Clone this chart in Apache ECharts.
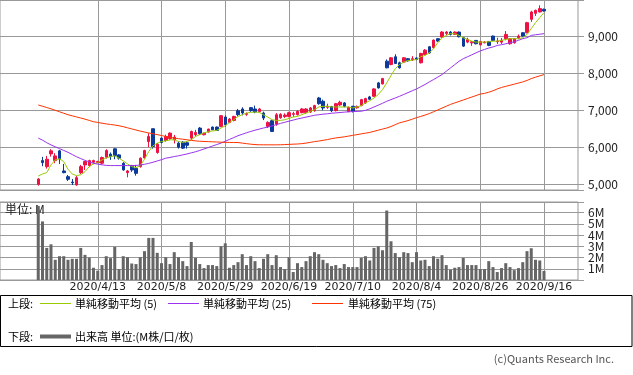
<!DOCTYPE html>
<html><head><meta charset="utf-8">
<script src="https://cdn.jsdelivr.net/npm/echarts@6/dist/echarts.min.js"></script>
<style>html,body{margin:0;padding:0;background:#fff}#c{width:633px;height:375px}</style>
</head><body><div id="c"></div>
<script>
const dates = [
'2020/3/24','2020/3/25','2020/3/26','2020/3/27','2020/3/30','2020/3/31',
'2020/4/1','2020/4/2','2020/4/3','2020/4/6','2020/4/7','2020/4/8','2020/4/9','2020/4/10','2020/4/13','2020/4/14','2020/4/15','2020/4/16','2020/4/17','2020/4/20','2020/4/21','2020/4/22','2020/4/23','2020/4/24','2020/4/27','2020/4/28','2020/4/30',
'2020/5/1','2020/5/7','2020/5/8','2020/5/11','2020/5/12','2020/5/13','2020/5/14','2020/5/15','2020/5/18','2020/5/19','2020/5/20','2020/5/21','2020/5/22','2020/5/25','2020/5/26','2020/5/27','2020/5/28','2020/5/29',
'2020/6/1','2020/6/2','2020/6/3','2020/6/4','2020/6/5','2020/6/8','2020/6/9','2020/6/10','2020/6/11','2020/6/12','2020/6/15','2020/6/16','2020/6/17','2020/6/18','2020/6/19','2020/6/22','2020/6/23','2020/6/24','2020/6/25','2020/6/26','2020/6/29','2020/6/30',
'2020/7/1','2020/7/2','2020/7/3','2020/7/6','2020/7/7','2020/7/8','2020/7/9','2020/7/10','2020/7/13','2020/7/14','2020/7/15','2020/7/16','2020/7/17','2020/7/20','2020/7/21','2020/7/22','2020/7/27','2020/7/28','2020/7/29','2020/7/30','2020/7/31',
'2020/8/3','2020/8/4','2020/8/5','2020/8/6','2020/8/7','2020/8/11','2020/8/12','2020/8/13','2020/8/14','2020/8/17','2020/8/18','2020/8/19','2020/8/20','2020/8/21','2020/8/24','2020/8/25','2020/8/26','2020/8/27','2020/8/28','2020/8/31',
'2020/9/1','2020/9/2','2020/9/3','2020/9/4','2020/9/7','2020/9/8','2020/9/9','2020/9/10','2020/9/11','2020/9/14','2020/9/15','2020/9/16'];
const tickLabels = ['2020/4/13','2020/5/8','2020/5/29','2020/6/19','2020/7/10','2020/8/4','2020/8/26','2020/9/16'];
const opens = [4990,5635,5471,5817,5635,5899,5354,5199,5054,4973,
5308,5518,5499,5590,5581,5564,5727,5809,5954,5790,
5564,5308,5500,5427,5472,5708,6153,6500,5853,6245,
6180,6235,6200,6109,6136,6120,6245,6336,6517,6336,
6409,6545,6545,6563,6817,6671,6726,6990,7036,6890,
7072,7036,6963,6926,6563,6717,6626,6799,6830,6835,
6890,6881,6935,6935,6954,6990,7335,7245,7080,7100,
6990,7145,7200,6963,7109,7070,7127,7199,7363,7381,
7744,7717,8333,8243,8453,8290,8308,8400,8370,8420,
8290,8515,8725,8698,8943,8987,9087,9123,9060,9123,
8970,8851,8830,8896,8778,8830,8869,9014,8860,8850,
8942,8806,8833,8969,9105,9105,9469,9632,9669,9741];
const closes = [5136,5580,5673,5899,5763,5690,5308,5128,5035,5172,
5471,5608,5635,5635,5610,5717,5908,5744,5772,5700,
5381,5354,5381,5290,5700,5908,6290,6017,6081,6126,
6290,6381,6272,6000,5973,6050,6426,6400,6363,6380,
6490,6472,6454,6853,6608,6763,6835,6881,6926,6910,
6990,6953,7036,6790,6672,6426,6880,6890,6870,6935,
6910,6972,7036,7036,7063,7127,7180,7063,7110,6990,
7180,7218,7108,7081,6972,7100,7290,7317,7300,7581,
7608,7861,8153,8425,8270,8153,8425,8343,8400,8380,
8543,8633,8561,8905,8878,9123,9123,9060,9123,8996,
8742,8924,8860,8806,8869,8850,8760,8896,8880,8900,
9060,8942,8942,9014,9014,9378,9669,9714,9760,9695];
const lows = [4955,5482,5417,5744,5564,5545,5292,5082,4973,4955,
5272,5381,5460,5550,5560,5527,5690,5654,5672,5660,
5363,5182,5330,5227,5445,5690,6000,5960,5820,6100,
6150,6200,6100,5960,5950,5960,6200,6290,6330,6320,
6400,6460,6440,6540,6563,6650,6700,6835,6863,6850,
6960,6920,6950,6735,6520,6410,6580,6770,6790,6810,
6820,6860,6920,6900,6930,6960,7150,7000,7040,6950,
6970,7120,7080,6950,6940,7040,7110,7180,7280,7360,
7590,7700,8140,8220,8260,8130,8290,8320,8340,8360,
8270,8500,8540,8680,8860,8970,9040,9030,9050,8980,
8720,8820,8750,8790,8760,8820,8740,8880,8800,8800,
8900,8780,8810,8930,9000,9090,9400,9560,9660,9680];
const highs = [5155,5736,5763,5946,5837,5926,5545,5245,5136,5218,
5518,5620,5660,5660,5630,5745,5945,5854,5970,5810,
5590,5381,5520,5518,5720,5930,6380,6500,6110,6260,
6340,6400,6330,6150,6160,6150,6450,6470,6545,6390,
6500,6560,6560,6870,6860,6790,6850,7036,7081,6940,
7090,7127,7060,6963,6700,6740,6926,6920,6920,6960,
6960,7000,7060,7060,7090,7150,7363,7290,7180,7120,
7200,7260,7220,7100,7120,7130,7310,7340,7390,7600,
7770,7880,8380,8440,8520,8320,8440,8420,8470,8440,
8560,8660,8740,8920,8960,9150,9150,9150,9140,9140,
8990,8970,8880,8910,8880,8880,8880,9030,8970,8960,
9150,8960,8960,9060,9120,9400,9700,9730,9850,9760];
const volumes = [6.6,5.22,2.86,3.18,1.8,2.12,2.12,1.8,1.89,1.89,
2.86,2.24,2.0,1.09,0.83,1.33,2.12,1.95,2.95,0.97,
2.12,2.03,1.47,1.42,2.03,2.57,3.75,3.75,2.42,1.5,
2.03,1.42,2.48,2.03,1.68,1.24,3.39,1.97,1.42,1.06,
1.33,1.33,1.24,3.0,3.27,1.09,1.33,1.59,2.3,1.33,
2.12,1.68,1.06,1.89,2.3,1.33,2.21,1.15,0.97,2.03,
0.71,1.5,1.15,1.68,2.12,2.48,2.3,1.8,1.5,1.24,
1.33,1.06,1.42,1.15,1.15,1.15,1.97,2.12,1.74,2.86,
3.0,2.65,6.19,3.45,2.4,2.03,2.48,2.4,1.59,2.48,
1.74,1.8,1.24,2.12,1.9,2.21,1.33,0.92,1.09,1.15,
1.97,1.33,1.33,1.33,0.97,0.97,1.68,1.15,0.71,1.06,
1.5,1.15,0.88,1.06,1.59,2.57,2.83,1.8,1.74,0.8];
const ma5 = [5218,5272,5308,5518,5654,5681,5608,5400,5270,5230,
5250,5336,5472,5545,5581,5654,5708,5744,5763,5700,
5627,5545,5472,5445,5500,5672,5881,6036,6109,6154,
6170,6199,6199,6154,6127,6154,6199,6290,6340,6390,
6420,6440,6453,6520,6580,6671,6744,6834,6880,6926,
6944,6953,6944,6880,6817,6744,6726,6726,6744,6780,
6817,6834,6880,6926,6970,7017,7090,7108,7108,7090,
7090,7090,7090,7090,7063,7090,7126,7199,7262,7335,
7426,7562,7744,7943,8126,8243,8306,8352,8360,8380,
8453,8488,8561,8670,8834,8970,9033,9080,9080,9033,
8970,8924,8878,8851,8851,8851,8860,8878,8878,8896,
8924,8943,8943,8943,8970,9060,9215,9378,9515,9651];
const ma25 = [6245,6190,6120,6060,6010,5960,5910,5860,5800,5740,
5690,5640,5600,5560,5540,5520,5505,5500,5500,5500,
5500,5500,5500,5505,5515,5535,5560,5590,5625,5660,
5700,5720,5745,5765,5790,5815,5845,5875,5910,5950,
5990,6030,6070,6110,6160,6210,6260,6310,6350,6390,
6426,6460,6490,6520,6545,6575,6610,6645,6675,6705,
6735,6765,6790,6815,6840,6865,6880,6895,6905,6920,
6930,6940,6950,6960,6965,6970,6975,7000,7040,7090,
7140,7190,7245,7290,7335,7380,7430,7480,7530,7580,
7640,7700,7770,7834,7900,7970,8060,8150,8240,8330,
8400,8453,8505,8560,8610,8652,8690,8720,8761,8780,
8805,8834,8860,8900,8943,8970,9033,9050,9065,9080];
const ma75 = [7144,7110,7075,7040,7000,6960,6920,6880,6850,6820,
6790,6760,6725,6690,6671,6650,6630,6615,6600,6580,
6555,6525,6495,6465,6435,6410,6385,6363,6340,6315,
6290,6265,6245,6230,6215,6200,6185,6170,6160,6154,
6150,6145,6140,6135,6130,6127,6127,6125,6110,6095,
6080,6070,6065,6063,6063,6063,6063,6065,6070,6075,
6081,6085,6095,6110,6130,6150,6165,6185,6205,6230,
6250,6265,6280,6300,6320,6340,6360,6380,6400,6430,
6460,6490,6520,6560,6610,6660,6690,6720,6760,6800,
6834,6870,6910,6960,7010,7060,7110,7160,7200,7240,
7280,7320,7360,7400,7440,7460,7490,7530,7580,7620,
7650,7680,7710,7740,7770,7810,7860,7900,7935,7970];

const C_UP = '#ee1144', C_DN = '#0c3a9a';
const C5 = '#99cc00', C25 = '#9933ee', C75 = '#ff3300', CVOL = '#666666';
const FONT = '"Noto Sans CJK JP", "Noto Sans", sans-serif';
const DFONT = '"DejaVu Sans", sans-serif';

const PAD_L = 9, PAD_R = 8;
const cats = [];
for (let i = 0; i < PAD_L; i++) cats.push('L' + i);
dates.forEach(d => cats.push(d));
for (let i = 0; i < PAD_R; i++) cats.push('R' + i);
const isTick = (idx, val) => tickLabels.indexOf(val) >= 0;

const candleData = dates.map((d, i) => [d, opens[i], closes[i], lows[i], highs[i]]);
const pair = arr => dates.map((d, i) => [d, arr[i]]);

const chart = echarts.init(document.getElementById('c'), null, {renderer: 'canvas'});
const GL = 0, GW = 578;
chart.setOption({
  animation: false,
  backgroundColor: '#fff',
  textStyle: {fontFamily: FONT},
  grid: [
    {left: GL, top: 0.5, width: GW, height: 189.5, show: true, borderColor: '#999', borderWidth: 1, containLabel: false},
    {left: GL, top: 202, width: GW, height: 78, show: true, borderColor: '#999', borderWidth: 1, containLabel: false}
  ],
  xAxis: [
    {type: 'category', gridIndex: 0, data: cats, boundaryGap: false,
     axisLine: {show: false}, axisTick: {show: false}, axisLabel: {show: false},
     splitLine: {show: true, interval: isTick, lineStyle: {color: '#999', width: 1}}},
    {type: 'category', gridIndex: 1, data: cats, boundaryGap: false,
     axisLine: {show: false}, axisTick: {show: false},
     axisLabel: {show: true, interval: isTick, margin: 2, fontSize: 11, color: '#222', fontFamily: DFONT},
     splitLine: {show: true, interval: isTick, lineStyle: {color: '#999', width: 1}}}
  ],
  yAxis: [
    {type: 'value', gridIndex: 0, position: 'right', min: 4837, max: 9980, scale: true,
     axisLine: {show: false}, axisTick: {show: true, length: 6, lineStyle: {color: '#999'}},
     axisLabel: {margin: 10, fontSize: 12, color: '#222', fontFamily: FONT,
       formatter: v => (Math.abs(v % 1000) < 1e-6) ? echarts.format.addCommas(v) : ''},
     splitLine: {show: true, lineStyle: {color: '#999', width: 1}}},
    {type: 'value', gridIndex: 1, position: 'right', min: 0, max: 6.95,
     axisLine: {show: false}, axisTick: {show: true, length: 6, lineStyle: {color: '#999'}},
     axisLabel: {margin: 10, fontSize: 12, color: '#222', fontFamily: FONT,
       formatter: v => (v > 0 && Math.abs(v - Math.round(v)) < 1e-6) ? Math.round(v) + 'M' : ''},
     splitLine: {show: true, lineStyle: {color: '#999', width: 1}}}
  ],
  series: [
    {name: '株価', type: 'candlestick', xAxisIndex: 0, yAxisIndex: 0, data: candleData,
     encode: {x: 0, y: [1, 2, 3, 4]}, barWidth: 3,
     itemStyle: {color: C_UP, color0: C_DN, borderColor: C_UP, borderColor0: C_DN, borderWidth: 1}, z: 3},
    {name: '単純移動平均(5)', type: 'line', xAxisIndex: 0, yAxisIndex: 0, data: pair(ma5), showSymbol: false,
     lineStyle: {color: C5, width: 1}, z: 4},
    {name: '単純移動平均(25)', type: 'line', xAxisIndex: 0, yAxisIndex: 0, data: pair(ma25), showSymbol: false,
     lineStyle: {color: C25, width: 1}, z: 4},
    {name: '単純移動平均(75)', type: 'line', xAxisIndex: 0, yAxisIndex: 0, data: pair(ma75), showSymbol: false,
     lineStyle: {color: C75, width: 1}, z: 4},
    {name: '出来高', type: 'bar', xAxisIndex: 1, yAxisIndex: 1, data: pair(volumes), barWidth: 3,
     itemStyle: {color: CVOL}, z: 3}
  ],
  graphic: [
    {type: 'text', x: 5, y: 209, z: 1, style: {text: '単位: M', font: '12px ' + FONT, fill: '#222', verticalAlign: 'middle'}},
    {type: 'rect', shape: {x: 0.5, y: 295.5, width: 631.5, height: 51}, style: {fill: 'none', stroke: '#000', lineWidth: 1}},
    {type: 'text', x: 8, y: 304, style: {text: '上段:', font: '11px ' + FONT, fill: '#000', verticalAlign: 'middle'}},
    {type: 'line', shape: {x1: 40, y1: 303.5, x2: 71, y2: 303.5}, style: {stroke: C5, lineWidth: 1}},
    {type: 'text', x: 75, y: 304, style: {text: '単純移動平均 (5)', font: '11px ' + FONT, fill: '#000', verticalAlign: 'middle'}},
    {type: 'line', shape: {x1: 168, y1: 303.5, x2: 199, y2: 303.5}, style: {stroke: C25, lineWidth: 1}},
    {type: 'text', x: 203, y: 304, style: {text: '単純移動平均 (25)', font: '11px ' + FONT, fill: '#000', verticalAlign: 'middle'}},
    {type: 'line', shape: {x1: 312, y1: 303.5, x2: 343, y2: 303.5}, style: {stroke: C75, lineWidth: 1}},
    {type: 'text', x: 348, y: 304, style: {text: '単純移動平均 (75)', font: '11px ' + FONT, fill: '#000', verticalAlign: 'middle'}},
    {type: 'text', x: 8, y: 337, style: {text: '下段:', font: '11px ' + FONT, fill: '#000', verticalAlign: 'middle'}},
    {type: 'line', shape: {x1: 40, y1: 336.5, x2: 71, y2: 336.5}, style: {stroke: CVOL, lineWidth: 4}},
    {type: 'text', x: 75, y: 337, style: {text: '出来高 単位:(M株/口/枚)', font: '11px ' + FONT, fill: '#000', verticalAlign: 'middle'}},
    {type: 'text', x: 614, y: 359, style: {text: '(c)Quants Research Inc.', font: '11px ' + FONT, fill: '#555', align: 'right', verticalAlign: 'middle'}}
  ]
});
</script></body></html>
